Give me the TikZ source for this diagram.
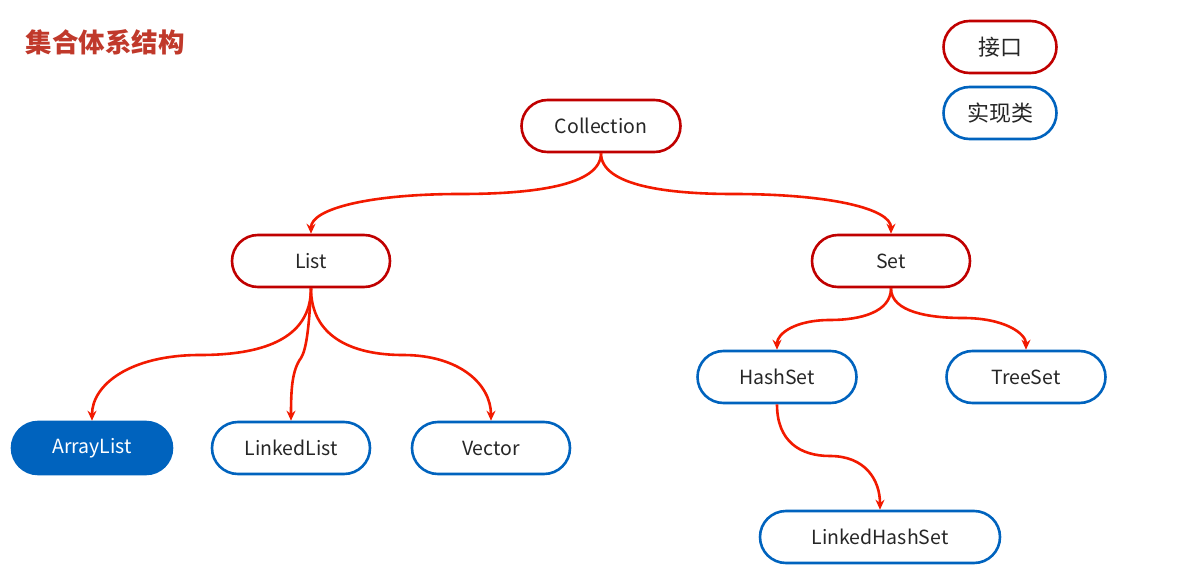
\documentclass[tikz,border=0pt]{standalone}
\usepackage{fontspec}
\setmainfont{Noto Sans CJK SC}
\usetikzlibrary{arrows.meta}
\definecolor{ifred}{HTML}{C00000}
\definecolor{lnred}{HTML}{F21A00}
\definecolor{impblue}{HTML}{0063BE}
\definecolor{titred}{HTML}{C0392B}
\tikzset{
  box/.style={rectangle, rounded corners=26pt, line width=2.6pt, minimum height=52pt, inner sep=0pt, font=\fontsize{19.5}{22}\selectfont, text=black!85},
  iface/.style={box, draw=ifred},
  impl/.style={box, draw=impblue},
  implfill/.style={box, draw=impblue, fill=impblue, text=white},
  conn/.style={draw=lnred, line width=2.6pt, -{Stealth[length=10pt,width=9pt]}},
}
\begin{document}
\begin{tikzpicture}[x=1pt,y=-1pt]
\useasboundingbox (0,0) rectangle (1200,578);
\node[anchor=west, text=titred, font=\fontsize{26.5}{29}\selectfont\bfseries] (title) at (22,42) {集合体系结构};
\node[iface, minimum width=113pt, font=\fontsize{22}{24}\selectfont] (lgi) at (1000,47) {接口};
\node[impl, minimum width=113pt, font=\fontsize{22}{24}\selectfont] (lgc) at (1000,113) {实现类};
\node[iface, minimum width=159pt] (coll) at (601,126) {Collection};
\node[iface, minimum width=158pt] (list) at (311,261) {List};
\node[iface, minimum width=158pt] (set) at (891,261) {Set};
\node[implfill, minimum width=160pt] (al) at (92,448) {ArrayList};
\node[impl, minimum width=158pt] (ll) at (291,448) {LinkedList};
\node[impl, minimum width=158pt] (vec) at (491,448) {Vector};
\node[impl, minimum width=159pt] (hs) at (777,377) {HashSet};
\node[impl, minimum width=159pt] (ts) at (1026,377) {TreeSet};
\node[impl, minimum width=240pt] (lhs) at (880,537) {LinkedHashSet};
\coordinate (mcl) at (460,194);
\coordinate (mcs) at (733,194);
\coordinate (mal) at (200,355);
\coordinate (mll) at (301,358);
\coordinate (mvc) at (403,355);
\coordinate (mhs) at (830,320);
\coordinate (mts) at (963,318);
\coordinate (mlh) at (830,456);
\draw[conn] (coll.south) .. controls +(0,33) and +(70,0) .. (mcl) .. controls +(-90,0) and +(0,-25) .. (list.north);
\draw[conn] (coll.south) .. controls +(0,33) and +(-63,0) .. (mcs) .. controls +(97,0) and +(0,-25) .. (set.north);
\draw[conn] (list.south) .. controls +(0,52) and +(60,0) .. (mal) .. controls +(-70,0) and +(0,-36) .. (al.north);
\draw[conn] (list.south) .. controls +(-2,42) and +(5,-8) .. (mll) .. controls +(-9,12) and +(0,-31) .. (ll.north);
\draw[conn] (list.south) .. controls +(0,47) and +(-53,0) .. (mvc) .. controls +(57,0) and +(0,-36) .. (vec.north);
\draw[conn] (set.south) .. controls +(0,24) and +(30,0) .. (mhs) .. controls +(-35,0) and +(0,-16) .. (hs.north);
\draw[conn] (set.south) .. controls +(0,24) and +(-33,0) .. (mts) .. controls +(42,0) and +(0,-16) .. (ts.north);
\draw[conn] (hs.south) .. controls +(0,37) and +(-30,0) .. (mlh) .. controls +(35,0) and +(0,-30) .. (lhs.north);
\end{tikzpicture}
\end{document}
